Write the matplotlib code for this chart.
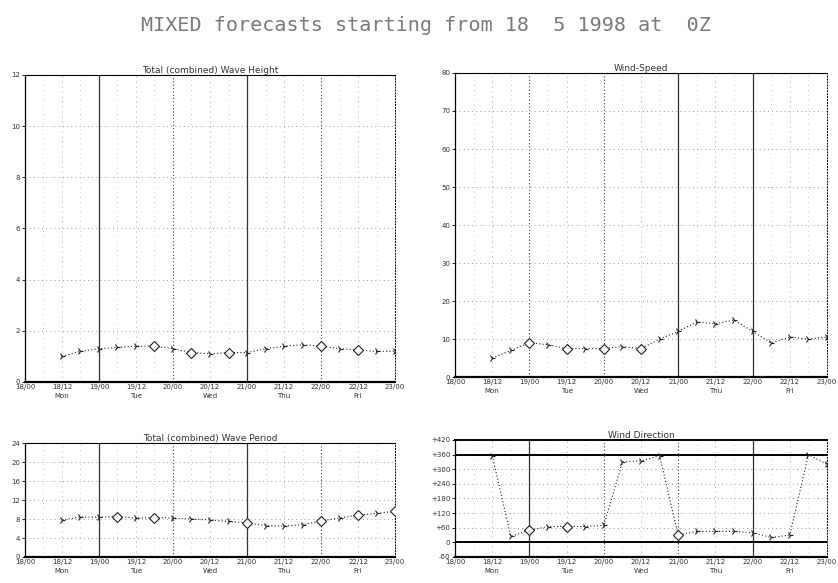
import numpy as np
import matplotlib
matplotlib.use('Agg')
import matplotlib.pyplot as plt

# 时间轴（小时，从 18/00 起算），每 6 小时一个点
hours = [12, 18, 24, 30, 36, 42, 48, 54, 60, 66, 72, 78, 84, 90, 96, 102, 108, 114, 120]

wave_height = [1.0, 1.2, 1.3, 1.35, 1.4, 1.4, 1.3, 1.15, 1.1, 1.15, 1.15, 1.3, 1.4, 1.45, 1.4, 1.3, 1.25, 1.2, 1.2]
wind_speed = [5, 7, 9, 8.5, 7.5, 7.5, 7.5, 8, 7.5, 10, 12, 14.5, 14, 15, 12, 9, 10.5, 10, 10.5]
wave_period = [7.8, 8.4, 8.4, 8.5, 8.2, 8.3, 8.2, 8.0, 7.8, 7.5, 7.2, 6.6, 6.5, 6.8, 7.6, 8.2, 8.8, 9.2, 9.6]
wind_dir = [355, 25, 50, 65, 65, 65, 70, 330, 335, 355, 30, 45, 45, 45, 40, 20, 30, 360, 320]

# 菱形标记所在的点
height_diamonds = [5, 7, 9, 14, 16]
speed_diamonds = [2, 4, 6, 8]
period_diamonds = [3, 5, 10, 14, 16, 18]
dir_diamonds = [2, 4, 10]

tick_hours = list(range(0, 121, 12))
tick_labels = ['18/00', '18/12\nMon', '19/00', '19/12\nTue', '20/00', '20/12\nWed',
               '21/00', '21/12\nThu', '22/00', '22/12\nFri', '23/00']

fig = plt.figure(figsize=(8.38, 5.83), dpi=100)
fig.patch.set_facecolor('white')

fig.text(0.508, 0.957, 'MIXED forecasts starting from 18  5 1998 at  0Z',
         ha='center', va='center', fontsize=14.5, color='#7a7a7a',
         family='DejaVu Sans Mono')

# 面板：位置、标题、数据、y 范围、刻度、菱形点、实线日分界
panels = [
    ([0.0298, 0.3448, 0.4416, 0.5266], 'Total (combined) Wave Height', wave_height,
     (0, 12), list(range(0, 13, 2)), [str(v) for v in range(0, 13, 2)], height_diamonds, [24, 72]),
    ([0.5430, 0.3533, 0.4439, 0.5215], 'Wind-Speed', wind_speed,
     (0, 80), list(range(0, 81, 10)), [str(v) for v in range(0, 81, 10)], speed_diamonds, [72, 96]),
    ([0.0298, 0.0446, 0.4416, 0.1955], 'Total (combined) Wave Period', wave_period,
     (0, 24), list(range(0, 25, 4)), [str(v) for v in range(0, 25, 4)], period_diamonds, [24, 72]),
    ([0.5430, 0.0446, 0.4439, 0.2007], 'Wind Direction', wind_dir,
     (-60, 420), list(range(-60, 421, 60)),
     ['-60', '0'] + ['+' + str(v) for v in range(60, 421, 60)], dir_diamonds, [24, 96]),
]

for rect, title, values, ylim, yticks, ylabels, diamonds, solid_days in panels:
    ax = fig.add_axes(rect)
    ax.set_xlim(0, 120)
    ax.set_ylim(*ylim)

    # 网格
    for y in yticks[1:-1]:
        ax.axhline(y, color='#777777', lw=0.6, ls=(0, (1, 4)), zorder=1)
    for h in range(6, 120, 12):
        ax.axvline(h, color='#999999', lw=0.5, ls=(0, (1, 6)), zorder=1)
    for h in [12, 36, 60, 84, 108]:
        ax.axvline(h, color='#888888', lw=0.6, ls=(0, (1, 5)), zorder=1)
    for h in [24, 48, 72, 96]:
        if h in solid_days:
            ax.axvline(h, color='#333333', lw=0.9, zorder=1)
        else:
            ax.axvline(h, color='#444444', lw=0.8, ls=(0, (1, 2)), zorder=1)

    if title == 'Wind Direction':
        ax.axhline(0, color='black', lw=1.4, zorder=2)
        ax.axhline(360, color='black', lw=1.4, zorder=2)

    ax.plot(hours, values, color='#222222', lw=0.8, ls=(0, (1, 2)),
            marker='4', markersize=5, markeredgewidth=0.8, zorder=3)
    ax.plot([hours[i] for i in diamonds], [values[i] for i in diamonds],
            ls='none', marker='D', markersize=5, markerfacecolor='white',
            markeredgecolor='#222222', markeredgewidth=0.8, zorder=4)

    ax.set_xticks(tick_hours)
    ax.set_xticklabels(tick_labels, fontsize=5, color='#333333', linespacing=1.6)
    ax.set_yticks(yticks)
    ax.set_yticklabels(ylabels, fontsize=5, color='#333333')
    ax.tick_params(axis='both', length=2, width=0.6, pad=1.5)
    ax.tick_params(axis='x', length=0)

    ax.spines['left'].set_linewidth(0.9)
    ax.spines['bottom'].set_linewidth(1.6)
    ax.spines['top'].set_linewidth(0.8)
    ax.spines['top'].set_linestyle((0, (2, 1)))
    ax.spines['right'].set_linewidth(0.7)
    ax.spines['right'].set_linestyle((0, (1, 2)))
    if title == 'Wind Direction':
        ax.spines['top'].set_linestyle('-')
        ax.spines['top'].set_linewidth(1.4)

    ax.set_title(title, fontsize=6.5, color='#333333', pad=1.5)

fig.savefig('out.png', dpi=100, facecolor='white')
